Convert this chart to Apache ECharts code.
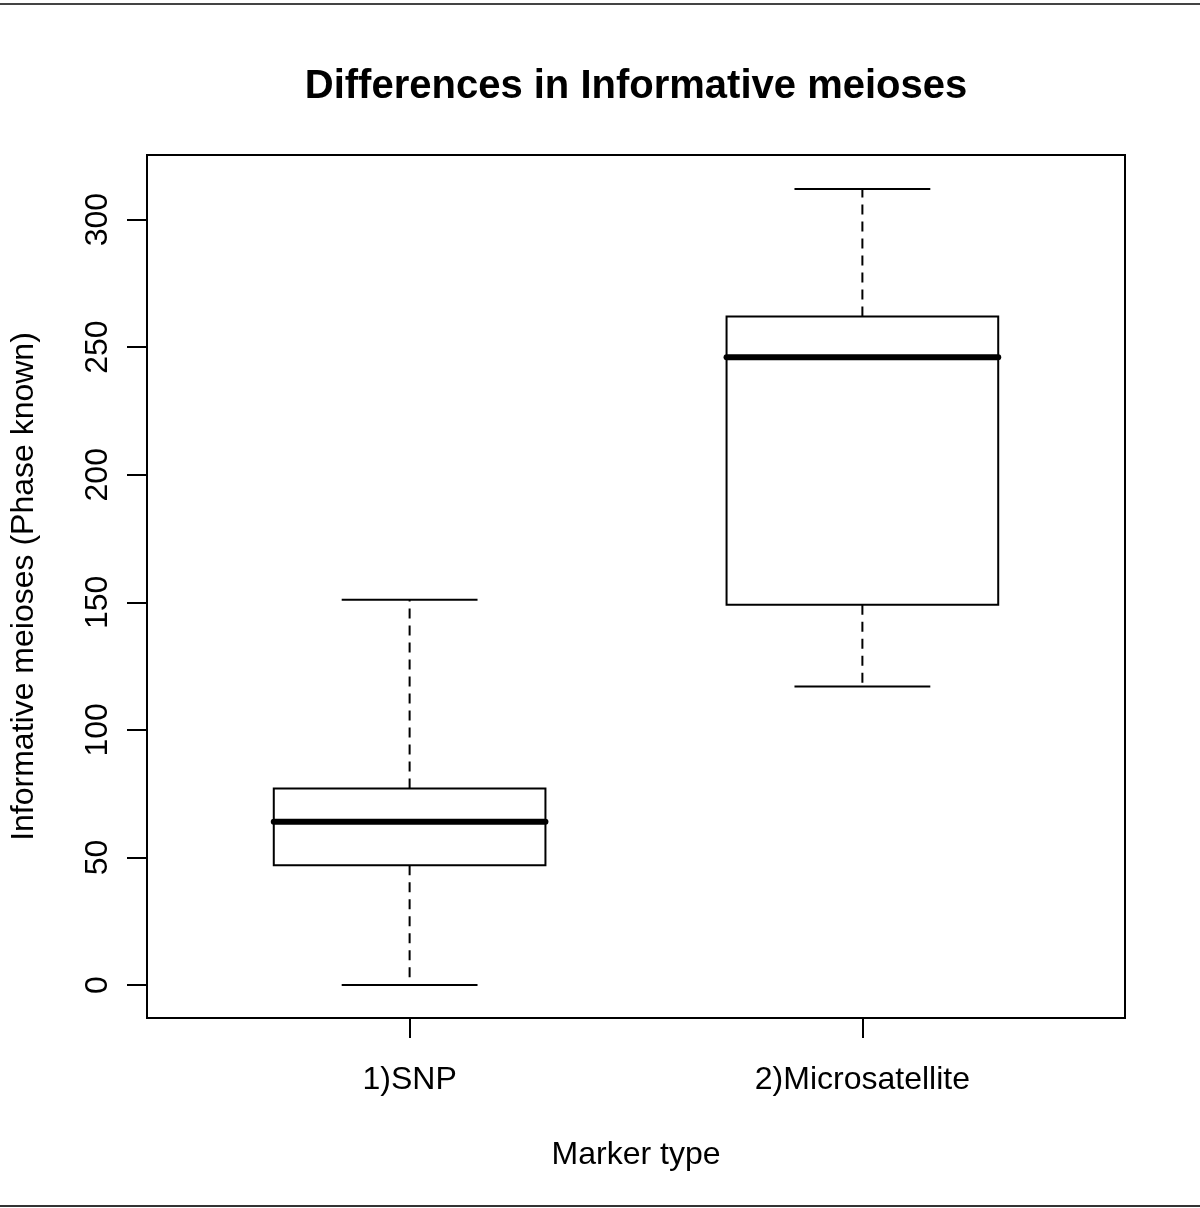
<!DOCTYPE html>
<html>
<head>
<meta charset="utf-8">
<script src="https://cdn.jsdelivr.net/npm/echarts@6/dist/echarts.min.js"></script>
<style>
html,body{margin:0;padding:0;background:#fff;}
#c{width:1200px;height:1208px;}
</style>
</head>
<body>
<div id="c"></div>
<script>
const categories = ['1)SNP', '2)Microsatellite'];
const whiskerLow = [0, 117];
const q1 = [47, 149];
const median = [64, 246];
const q3 = [77, 262];
const whiskerHigh = [151, 312];
const yTicks = [0, 50, 100, 150, 200, 250, 300];
const xTicks = [1, 2];

const FONT = '"Liberation Sans", Arial, Helvetica, sans-serif';
const data = categories.map((c, i) => [i + 1, whiskerLow[i], q1[i], median[i], q3[i], whiskerHigh[i]]);

const chart = echarts.init(document.getElementById('c'), null, {renderer: 'canvas'});
chart.setOption({
  backgroundColor: '#fff',
  animation: false,
  title: {
    text: 'Differences in Informative meioses',
    left: 631,
    top: 62,
    textAlign: 'center',
    textStyle: {fontFamily: FONT, fontWeight: 'bold', fontSize: 40, color: '#000'}
  },
  grid: {
    left: 147, right: 75, top: 155, bottom: 190,
    show: true, borderColor: '#000', borderWidth: 2, backgroundColor: 'transparent'
  },
  xAxis: {
    type: 'value',
    min: 0.42, max: 2.58,
    name: 'Marker type',
    nameLocation: 'middle',
    nameGap: 121,
    nameTextStyle: {fontFamily: FONT, fontSize: 32, color: '#000'},
    axisLine: {show: false, onZero: false},
    splitLine: {show: false},
    axisTick: {show: true, customValues: xTicks, length: 20, lineStyle: {color: '#000', width: 2}},
    axisLabel: {
      customValues: xTicks, margin: 46,
      fontFamily: FONT, fontSize: 32, color: '#000',
      formatter: v => categories[Math.round(v) - 1] || ''
    }
  },
  yAxis: {
    type: 'value',
    min: -12.9, max: 325.3,
    name: 'Informative meioses (Phase known)',
    nameLocation: 'middle',
    nameGap: 107,
    nameRotate: 90,
    nameTextStyle: {fontFamily: FONT, fontSize: 32, color: '#000'},
    axisLine: {show: false, onZero: false},
    splitLine: {show: false},
    axisTick: {show: true, customValues: yTicks, length: 20, lineStyle: {color: '#000', width: 2}},
    axisLabel: {
      customValues: yTicks, margin: 33, rotate: 90,
      fontFamily: FONT, fontSize: 32, color: '#000'
    }
  },
  series: [{
    type: 'custom',
    data: data,
    encode: {x: 0, y: [1, 2, 3, 4, 5]},
    renderItem: function (params, api) {
      const x = api.value(0);
      const lo = api.coord([x, api.value(1)]);
      const b1 = api.coord([x, api.value(2)]);
      const md = api.coord([x, api.value(3)]);
      const b3 = api.coord([x, api.value(4)]);
      const hi = api.coord([x, api.value(5)]);
      const boxW = api.size([0.6, 0])[0];
      const capW = api.size([0.3, 0])[0];
      const cx = lo[0];
      const solid = {stroke: '#000', lineWidth: 2, fill: null};
      const dashed = {stroke: '#000', lineWidth: 2, lineDash: [10, 7], fill: null};
      return {
        type: 'group',
        children: [
          {type: 'line', shape: {x1: cx, y1: b3[1], x2: cx, y2: hi[1]}, style: dashed},
          {type: 'line', shape: {x1: cx, y1: b1[1], x2: cx, y2: lo[1]}, style: dashed},
          {type: 'line', shape: {x1: cx - capW / 2, y1: hi[1], x2: cx + capW / 2, y2: hi[1]}, style: solid},
          {type: 'line', shape: {x1: cx - capW / 2, y1: lo[1], x2: cx + capW / 2, y2: lo[1]}, style: solid},
          {type: 'rect', shape: {x: cx - boxW / 2, y: b3[1], width: boxW, height: b1[1] - b3[1]}, style: {stroke: '#000', lineWidth: 2, fill: '#fff'}},
          {type: 'line', shape: {x1: cx - boxW / 2, y1: md[1], x2: cx + boxW / 2, y2: md[1]}, style: {stroke: '#000', lineWidth: 6, lineCap: 'round'}}
        ]
      };
    }
  }],
  graphic: [
    {type: 'line', shape: {x1: 0, y1: 4, x2: 1200, y2: 4}, style: {stroke: '#444', lineWidth: 2}},
    {type: 'line', shape: {x1: 0, y1: 1206, x2: 1200, y2: 1206}, style: {stroke: '#333', lineWidth: 2}}
  ]
});
</script>
</body>
</html>
